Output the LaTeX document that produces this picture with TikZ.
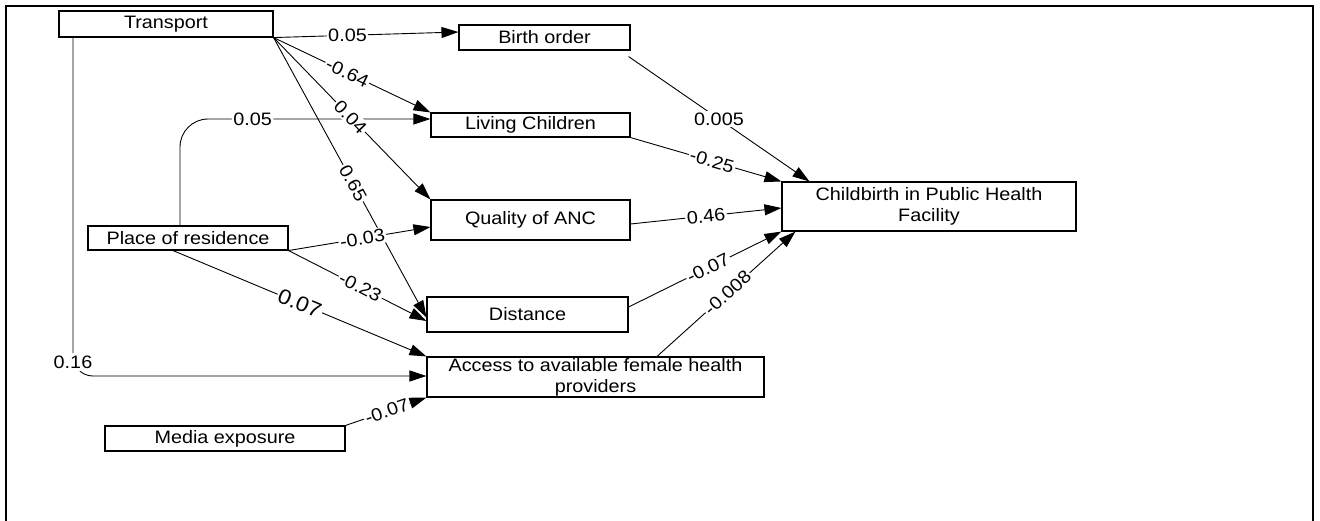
\documentclass[tikz,border=0pt]{standalone}
\usepackage{fontspec}
\setmainfont{Liberation Sans}[FakeStretch=1.1]
\usetikzlibrary{arrows.meta,calc}

\begin{document}
\begin{tikzpicture}[x=1pt,y=-1pt,
  every node/.style={font=\fontsize{18}{21}\selectfont},
  box/.style={draw,line width=1.1pt,fill=white,rectangle,inner sep=0pt,align=center},
  conn/.style={line width=0.9pt,-{Triangle[length=17pt,width=11pt]}},
  lbl/.style={fill=white,inner sep=1.5pt},
  biglbl/.style={fill=white,inner sep=1.5pt,font=\fontsize{21}{23}\selectfont}]

\useasboundingbox (0,0) rectangle (1320,520);
% outer frame
\draw[line width=2.5pt] (6,521) -- (6,6) -- (1313,6) -- (1313,521);

% variables
\node[box,minimum width=214pt,minimum height=26pt] (tr) at (166,24) {Transport};
\node[box,minimum width=171pt,minimum height=25pt] (bo) at (544.5,37.5) {Birth order};
\node[box,minimum width=199pt,minimum height=24pt] (lc) at (530.5,125) {Living Children};
\node[box,minimum width=199pt,minimum height=40pt] (qa) at (530.5,220) {Quality of ANC};
\node[box,minimum width=201pt,minimum height=35pt] (di) at (527.5,314.5) {Distance};
\node[box,minimum width=337pt,minimum height=40pt] (ac) at (595.5,377) {Access to available female health\\providers};
\node[box,minimum width=294pt,minimum height=49pt] (cb) at (929,206.5) {Childbirth in Public Health\\Facility};
\node[box,minimum width=200pt,minimum height=24pt] (pl) at (188,238) {Place of residence};
\node[box,minimum width=240pt,minimum height=25pt] (me) at (225,438.5) {Media exposure};

% paths into the intermediate variables
\draw[conn,rounded corners=28pt] ([xshift=-8pt]pl.north) |- node[lbl,pos=0.645]{0.05} ([yshift=6pt]lc.west);
\draw[conn] (tr.south east) -- node[lbl,pos=0.4]{0.05} ([yshift=5.5pt]bo.west);
\draw[conn] (tr.south east) -- node[lbl,sloped,pos=0.47]{-0.64} (lc.north west);
\draw[conn] (tr.south east) -- node[lbl,sloped,pos=0.52]{0.65} ([yshift=-3pt]di.west);
\draw[conn] (pl.south east) -- node[lbl,sloped,pos=0.52]{-0.03} ([yshift=-7pt]qa.west);
\draw[conn] (tr.south east) -- node[lbl,sloped,pos=0.49]{0.04} (qa.north west);
\draw[conn] (pl.south east) -- node[lbl,sloped,pos=0.52]{-0.23} ([yshift=-6.5pt]di.west);
\draw[conn] ([xshift=-15pt]pl.south) -- node[biglbl,sloped,pos=0.5]{0.07} (ac.north west);
\draw[conn,rounded corners=20pt] ([xshift=-93pt]tr.south) |- node[lbl,inner sep=3pt,pos=0.48]{0.16} ([yshift=1pt]ac.west);
\draw[conn] (me.north east) -- node[lbl,sloped,pos=0.51]{-0.07} (ac.south west);

% paths into the outcome
\draw[conn] ([shift={(-2pt,-6pt)}]bo.south east) -- node[lbl,pos=0.5]{0.005} ([xshift=28pt]cb.north west);
\draw[conn] (lc.south east) -- node[lbl,sloped,pos=0.54]{-0.25} (cb.north west);
\draw[conn] ([yshift=-4pt]qa.east) -- node[lbl,sloped,pos=0.5]{0.46} ([yshift=-1.5pt]cb.west);
\draw[conn] ([yshift=7.5pt]di.east) -- node[lbl,sloped,pos=0.52]{-0.07} (cb.south west);
\draw[conn] ([xshift=61.5pt]ac.north) -- node[lbl,sloped,pos=0.51]{-0.008} ([xshift=14pt]cb.south west);

\end{tikzpicture}
\end{document}
